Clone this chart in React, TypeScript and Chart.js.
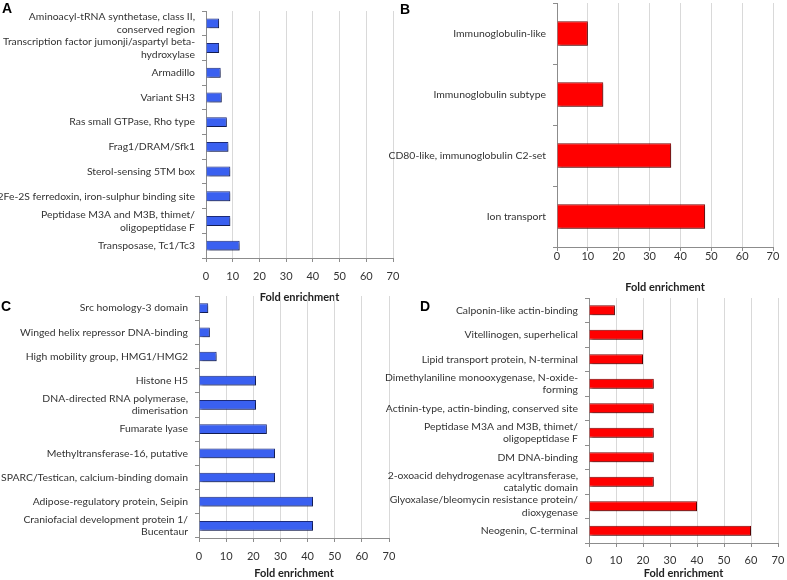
import React, { useEffect, useRef } from "react";
import { Chart, registerables } from "chart.js";

Chart.register(...registerables);

// ---------- Data ----------
const axisTitle = "Fold enrichment";
const xMin = 0;
const xMax = 70;
const xStep = 10;

const labelsA: (string | string[])[] = [
  ["Aminoacyl-tRNA synthetase, class II,", "conserved region"],
  ["Transcription factor jumonji/aspartyl beta-", "hydroxylase"],
  "Armadillo",
  "Variant SH3",
  "Ras small GTPase, Rho type",
  "Frag1/DRAM/Sfk1",
  "Sterol-sensing 5TM box",
  "2Fe-2S ferredoxin, iron-sulphur binding site",
  ["Peptidase M3A and M3B, thimet/", "oligopeptidase F"],
  "Transposase, Tc1/Tc3",
];
const valuesA = [4.9, 4.9, 5.5, 5.9, 7.8, 8.4, 9.1, 9.1, 9.1, 12.6];

const labelsB: (string | string[])[] = [
  "Immunoglobulin-like",
  "Immunoglobulin subtype",
  "CD80-like, immunoglobulin C2-set",
  "Ion transport",
];
const valuesB = [10, 15, 37, 48];

const labelsC: (string | string[])[] = [
  "Src homology-3 domain",
  "Winged helix repressor DNA-binding",
  "High mobility group, HMG1/HMG2",
  "Histone H5",
  ["DNA-directed RNA polymerase,", "dimerisation"],
  "Fumarate lyase",
  "Methyltransferase-16, putative",
  "SPARC/Testican, calcium-binding domain",
  "Adipose-regulatory protein, Seipin",
  ["Craniofacial development protein 1/", "Bucentaur"],
];
const valuesC = [3.4, 4, 6.5, 21, 21, 25, 28, 28, 42, 42];

const labelsD: (string | string[])[] = [
  "Calponin-like actin-binding",
  "Vitellinogen, superhelical",
  "Lipid transport protein, N-terminal",
  ["Dimethylaniline monooxygenase, N-oxide-", "forming"],
  "Actinin-type, actin-binding, conserved site",
  ["Peptidase M3A and M3B, thimet/", "oligopeptidase F"],
  "DM DNA-binding",
  ["2-oxoacid dehydrogenase acyltransferase,", "catalytic domain"],
  ["Glyoxalase/bleomycin resistance protein/", "dioxygenase"],
  "Neogenin, C-terminal",
];
const valuesD = [9.6, 20, 20, 24, 24, 24, 24, 24, 40, 60];

// ---------- Styles ----------
const FONT = "Lato, 'Open Sans', sans-serif";
const BLUE = "#3a60f0";
const BLUE_EDGE = "#1c2a78";
const RED = "#ff0000";
const RED_EDGE = "#7a0000";
const TEXT = "#333333";
const AXIS = "#8c8c8c";
const GRID = "#d9d9d9";

type PanelSpec = {
  letter: string;
  letterX: number;
  letterY: number;
  labels: (string | string[])[];
  values: number[];
  color: string;
  edge: string;
  left: number;
  top: number;
  width: number;
  height: number;
  padTop: number;
  padRight: number;
  yWidth: number;
  xHeight: number;
  tickPadX: number;
  titlePadBottom: number;
};

const panels: PanelSpec[] = [
  {
    letter: "A", letterX: 2, letterY: 0,
    labels: labelsA, values: valuesA, color: BLUE, edge: BLUE_EDGE,
    left: 0, top: 0, width: 410, height: 310,
    padTop: 11, padRight: 17, yWidth: 206, xHeight: 52, tickPadX: 8, titlePadBottom: 6,
  },
  {
    letter: "B", letterX: 400, letterY: 1,
    labels: labelsB, values: valuesB, color: RED, edge: RED_EDGE,
    left: 380, top: 0, width: 407, height: 300,
    padTop: 3, padRight: 14, yWidth: 177, xHeight: 53, tickPadX: -1, titlePadBottom: 6,
  },
  {
    letter: "C", letterX: 1, letterY: 298,
    labels: labelsC, values: valuesC, color: BLUE, edge: BLUE_EDGE,
    left: 0, top: 285, width: 400, height: 295,
    padTop: 11, padRight: 11, yWidth: 199, xHeight: 42, tickPadX: 8, titlePadBottom: 0,
  },
  {
    letter: "D", letterX: 420, letterY: 298,
    labels: labelsD, values: valuesD, color: RED, edge: RED_EDGE,
    left: 370, top: 285, width: 417, height: 295,
    padTop: 13, padRight: 9, yWidth: 219, xHeight: 37, tickPadX: 7, titlePadBottom: 0,
  },
];

const shadowPlugin = {
  id: "barShadow",
  beforeDatasetsDraw(chart: any) {
    const ctx = chart.ctx;
    ctx.save();
    ctx.shadowColor = "rgba(0,0,0,0.35)";
    ctx.shadowBlur = 2;
    ctx.shadowOffsetX = 2;
    ctx.shadowOffsetY = 2;
  },
  afterDatasetsDraw(chart: any) {
    chart.ctx.restore();
  },
};

function Panel({ spec }: { spec: PanelSpec }) {
  const ref = useRef<HTMLCanvasElement | null>(null);
  useEffect(() => {
    if (!ref.current) return;
    const chart = new Chart(ref.current, {
      type: "bar",
      data: {
        labels: spec.labels as any,
        datasets: [
          {
            data: spec.values,
            backgroundColor: spec.color,
            borderColor: spec.edge,
            borderWidth: 1,
            barPercentage: 0.4,
            categoryPercentage: 1,
          },
        ],
      },
      plugins: [shadowPlugin],
      options: {
        indexAxis: "y",
        responsive: false,
        animation: false,
        layout: {
          padding: { top: spec.padTop, right: spec.padRight, left: 0, bottom: 0 },
        },
        plugins: {
          legend: { display: false },
          tooltip: { enabled: false },
        },
        scales: {
          x: {
            min: xMin,
            max: xMax,
            ticks: {
              stepSize: xStep,
              color: TEXT,
              font: { family: FONT, size: 11 },
              padding: spec.tickPadX,
            },
            grid: { color: GRID, tickColor: AXIS, tickLength: 4, drawTicks: true },
            border: { color: AXIS },
            title: {
              display: true,
              text: axisTitle,
              color: "#222",
              font: { family: FONT, size: 11, weight: "bold" },
              padding: { top: 0, bottom: spec.titlePadBottom },
            },
            afterFit: (s: any) => {
              s.height = spec.xHeight;
              s.paddingLeft = 0;
              s.paddingRight = 0;
            },
          },
          y: {
            ticks: {
              autoSkip: false,
              color: TEXT,
              font: { family: FONT, size: 10.4, lineHeight: 1.2 },
              padding: 7,
            },
            grid: { drawOnChartArea: false, tickColor: AXIS, tickLength: 4, offset: true },
            border: { color: AXIS },
            afterFit: (s: any) => {
              s.width = spec.yWidth;
              s.paddingTop = 0;
              s.paddingBottom = 0;
            },
          },
        },
      } as any,
    });
    return () => chart.destroy();
  }, [spec]);
  return (
    <div
      style={{
        position: "absolute",
        left: spec.left,
        top: spec.top,
        width: spec.width,
        height: spec.height,
      }}
    >
      <canvas
        ref={ref}
        width={spec.width}
        height={spec.height}
        style={{ width: spec.width, height: spec.height, display: "block" }}
      />
    </div>
  );
}

export default function App() {
  return (
    <div
      style={{
        position: "absolute",
        left: 0,
        top: 0,
        width: 787,
        height: 580,
        background: "#fff",
        overflow: "hidden",
      }}
    >
      {panels.map((p) => (
        <Panel key={p.letter} spec={p} />
      ))}
      {panels.map((p) => (
        <div
          key={"l" + p.letter}
          style={{
            position: "absolute",
            left: p.letterX,
            top: p.letterY,
            fontFamily: "'Liberation Sans', Arial, sans-serif",
            fontWeight: "bold",
            fontSize: 14,
            lineHeight: "16px",
            color: "#000",
          }}
        >
          {p.letter}
        </div>
      ))}
    </div>
  );
}
